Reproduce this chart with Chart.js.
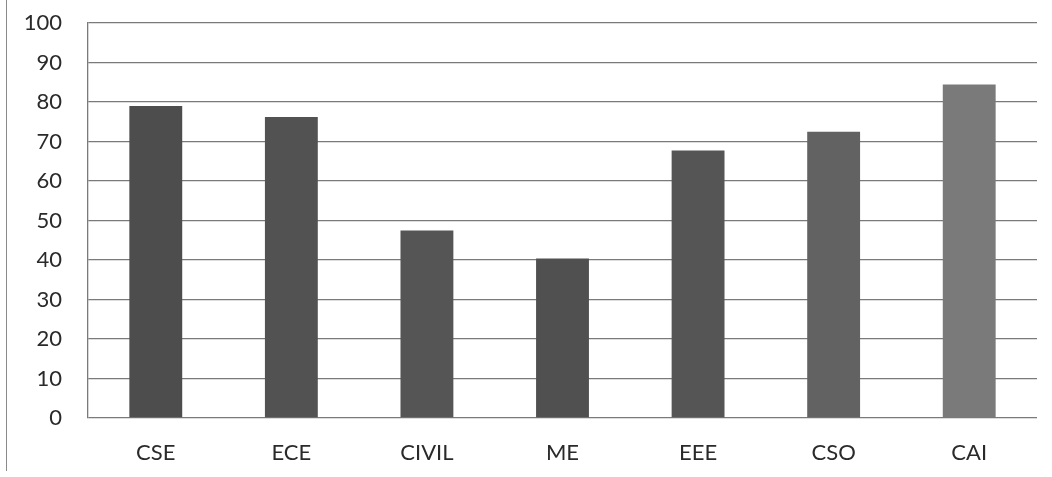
<!DOCTYPE html>
<html>
<head>
<meta charset="utf-8">
<script src="https://cdn.jsdelivr.net/npm/chart.js@4.4.1/dist/chart.umd.min.js"></script>
<style>
  html, body { margin: 0; padding: 0; background: #fff; }
  #wrap { position: relative; width: 1052px; height: 477px; }
  #edge { position: absolute; left: 6px; top: 0; bottom: 6px; border-left: 1px solid #8a8a8a; }
</style>
</head>
<body>
<div id="wrap">
  <div id="edge"></div>
  <canvas id="chart" width="1052" height="477"></canvas>
</div>
<script>
// Department values
const categories = ['CSE', 'ECE', 'CIVIL', 'ME', 'EEE', 'CSO', 'CAI'];
const values = [79, 76.2, 47.5, 40.4, 67.7, 72.5, 84.4];
const barColors = ['#4d4d4d', '#525252', '#555555', '#505050', '#555555', '#626262', '#7a7a7a'];
const yTicks = [0, 10, 20, 30, 40, 50, 60, 70, 80, 90, 100];

const labelFont = { family: 'Lato, "Open Sans", sans-serif', size: 22 };

new Chart(document.getElementById('chart'), {
  type: 'bar',
  data: {
    labels: categories,
    datasets: [{
      data: values,
      backgroundColor: barColors,
      borderWidth: 0,
      categoryPercentage: 1,
      barPercentage: 0.39,
    }],
  },
  options: {
    responsive: false,
    animation: false,
    devicePixelRatio: 1,
    layout: { padding: { top: 23, right: 15, bottom: 0, left: 0 } },
    scales: {
      x: {
        grid: { display: false, drawTicks: false },
        border: { display: false },
        ticks: { color: '#2a2a2a', font: labelFont, padding: 22 },
        afterFit: axis => { axis.height = 59; axis.paddingLeft = 0; axis.paddingRight = 0; },
      },
      y: {
        min: 0,
        max: 100,
        afterBuildTicks: axis => { axis.ticks = yTicks.map(v => ({ value: v })); },
        grid: { color: '#7a7a7a', lineWidth: 1.3, drawTicks: false },
        border: { display: true, color: '#7a7a7a', width: 1.3 },
        ticks: { color: '#2a2a2a', font: labelFont, padding: 26 },
        afterFit: axis => { axis.width = 88; axis.paddingTop = 0; axis.paddingBottom = 0; },
      },
    },
    plugins: {
      legend: { display: false },
      tooltip: { enabled: false },
    },
  },
});
</script>
</body>
</html>
